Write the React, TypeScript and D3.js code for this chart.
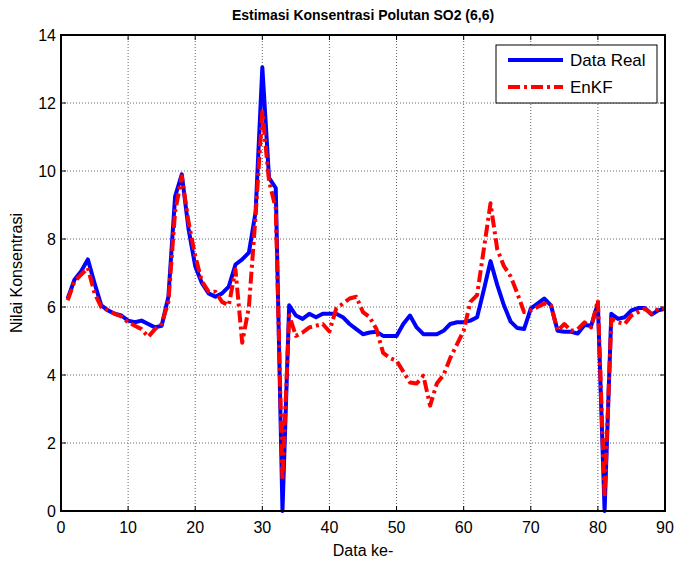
import React from "react";
import * as d3 from "d3";

const dataReal: number[] = [
  6.25, 6.8, 7.05, 7.4, 6.7, 6.05, 5.9, 5.8, 5.75, 5.6,
  5.55, 5.6, 5.5, 5.4, 5.45, 6.3, 9.25, 9.9, 8.3, 7.2,
  6.7, 6.4, 6.3, 6.4, 6.6, 7.25, 7.4, 7.6, 8.8, 13.05,
  9.8, 9.5, 0, 6.05, 5.75, 5.65, 5.8, 5.7, 5.8, 5.8,
  5.8, 5.7, 5.5, 5.35, 5.2, 5.25, 5.27, 5.15, 5.15, 5.15,
  5.5, 5.75, 5.4, 5.2, 5.2, 5.2, 5.3, 5.5, 5.55, 5.55,
  5.6, 5.7, 6.5, 7.35, 6.65, 6.05, 5.57, 5.38, 5.35, 5.95,
  6.1, 6.25, 6.05, 5.3, 5.27, 5.27, 5.22, 5.47, 5.45, 6.1,
  0, 5.8, 5.65, 5.7, 5.9, 5.97, 5.97, 5.78, 5.9, 5.95,
];

const enkf: number[] = [
  6.2, 6.75, 6.95, 7.15, 6.4, 6.0, 5.9, 5.8, 5.72, 5.55,
  5.45, 5.35, 5.12, 5.35, 5.5, 6.15, 8.8, 9.85, 8.5, 7.5,
  6.75, 6.45, 6.45, 6.15, 6.05, 7.1, 4.95, 6.0, 8.7, 11.75,
  9.7, 8.9, 0.9, 5.75, 5.15, 5.25, 5.4, 5.45, 5.5, 5.28,
  5.95, 6.1, 6.25, 6.3, 5.85, 5.7, 5.35, 4.65, 4.5, 4.42,
  4.1, 3.78, 3.75, 3.98, 3.1, 3.75, 4.0, 4.5, 4.9, 5.3,
  6.15, 6.35, 7.7, 9.05, 7.7, 7.2, 6.9, 6.4, 5.85, 5.9,
  6.0, 6.1, 6.05, 5.3, 5.5, 5.3, 5.35, 5.55, 5.4, 6.2,
  0.4, 5.65, 5.55, 5.5, 5.75, 5.85, 5.95, 5.8, 5.95, 5.95,
];

const xTicks: number[] = [0, 10, 20, 30, 40, 50, 60, 70, 80, 90];
const yTicks: number[] = [0, 2, 4, 6, 8, 10, 12, 14];
const seriesNames: string[] = ["Data Real", "EnKF"];
const titleText = "Estimasi Konsentrasi Polutan SO2 (6,6)";
const xLabel = "Data ke-";
const yLabel = "Nilai Konsentrasi";

const W = 677;
const H = 561;
const L = 61, R = 665, T = 35, B = 511;
const FONT = "Arial, 'Liberation Sans', Helvetica, sans-serif";

export default function App() {
  const x = d3.scaleLinear().domain([0, 90]).range([L, R]);
  const y = d3.scaleLinear().domain([0, 14]).range([B, T]);
  const line = d3
    .line<number>()
    .x((_, i) => x(i + 1))
    .y((d) => y(d));

  const tickLen = 5;
  return (
    <svg
      width={W}
      height={H}
      style={{ position: "absolute", left: 0, top: 0, background: "#fff" }}
      fontFamily={FONT}
    >
      <rect x={0} y={0} width={W} height={H} fill="#fff" />
      <rect x={L} y={T} width={R - L} height={B - T} fill="#fff" />
      {/* grid */}
      {xTicks.slice(1, -1).map((t) => (
        <line key={"gx" + t} x1={x(t)} x2={x(t)} y1={T} y2={B} stroke="#666" strokeWidth={1} strokeDasharray="1 2" />
      ))}
      {yTicks.slice(1, -1).map((t) => (
        <line key={"gy" + t} x1={L} x2={R} y1={y(t)} y2={y(t)} stroke="#666" strokeWidth={1} strokeDasharray="1 2" />
      ))}
      {/* ticks */}
      {xTicks.map((t) => (
        <g key={"tx" + t}>
          <line x1={x(t)} x2={x(t)} y1={B} y2={B - tickLen} stroke="#000" />
          <line x1={x(t)} x2={x(t)} y1={T} y2={T + tickLen} stroke="#000" />
          <text x={x(t)} y={533} textAnchor="middle" fontSize={16} fill="#000">{t}</text>
        </g>
      ))}
      {yTicks.map((t) => (
        <g key={"ty" + t}>
          <line x1={L} x2={L + tickLen} y1={y(t)} y2={y(t)} stroke="#000" />
          <line x1={R} x2={R - tickLen} y1={y(t)} y2={y(t)} stroke="#000" />
          <text x={L - 5} y={y(t) + 6} textAnchor="end" fontSize={16} fill="#000">{t}</text>
        </g>
      ))}
      {/* lines */}
      <path d={line(dataReal) || ""} fill="none" stroke="#0000ff" strokeWidth={4} strokeLinejoin="round" />
      <path d={line(enkf) || ""} fill="none" stroke="#ff0000" strokeWidth={4} strokeDasharray="12 4 3 4" strokeLinejoin="round" />
      {/* box */}
      <rect x={L} y={T} width={R - L} height={B - T} fill="none" stroke="#000" strokeWidth={2} />
      {/* legend */}
      <rect x={496} y={45} width={161} height={58} fill="#fff" stroke="#000" strokeWidth={1} />
      <line x1={508} x2={563} y1={60} y2={60} stroke="#0000ff" strokeWidth={4} />
      <line x1={508} x2={563} y1={87} y2={87} stroke="#ff0000" strokeWidth={4} strokeDasharray="12 4 3 4" />
      <text x={570} y={66} fontSize={17} fill="#000">{seriesNames[0]}</text>
      <text x={570} y={93} fontSize={17} fill="#000">{seriesNames[1]}</text>
      {/* title & labels */}
      <text x={363} y={20} textAnchor="middle" fontSize={14} fontWeight="bold" fill="#000">{titleText}</text>
      <text x={363} y={556} textAnchor="middle" fontSize={16} fill="#000">{xLabel}</text>
      <text transform={`translate(22,${(T + B) / 2}) rotate(-90)`} textAnchor="middle" fontSize={16} fill="#000">{yLabel}</text>
    </svg>
  );
}
